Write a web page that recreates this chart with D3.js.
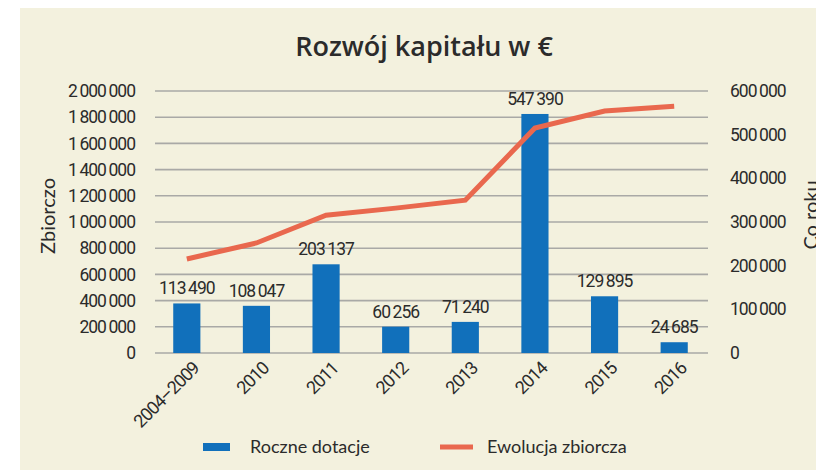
<!DOCTYPE html>
<html lang="pl">
  <head>
    <meta charset="UTF-8" />
    <title>Rozwój kapitału</title>
    <style>
      body {
        margin: 0;
        background: #fff;
      }
      .narrow {
        font-family: "Roboto", sans-serif;
        letter-spacing: -1px;
        fill: #2b2b2b;
      }
      .plain {
        font-family: "Lato", "Open Sans", sans-serif;
        fill: #2b2b2b;
      }
    </style>
  </head>
  <body>
    <div class="chart"></div>

    <script src="https://d3js.org/d3.v7.min.js"></script>
    <script>
      // dane
      const years = ["2004–2009", "2010", "2011", "2012", "2013", "2014", "2015", "2016"];
      const annual = [113490, 108047, 203137, 60256, 71240, 547390, 129895, 24685];
      const cumulative = [718000, 840000, 1052000, 1106000, 1167000, 1717000, 1847000, 1884000];
      const leftTicks = d3.range(0, 2000001, 200000);
      const rightTicks = d3.range(0, 600001, 100000);

      const W = 816;
      const H = 470;
      const plot = { left: 155, right: 708, top: 91, bottom: 353 };

      const pl = d3.formatLocale({ decimal: ",", thousands: "\u2009", grouping: [3], currency: ["", ""] });
      const fmt = pl.format(",d");

      const svg = d3.select(".chart").append("svg").attr("width", W).attr("height", H);

      // tło
      svg.append("rect").attr("x", 20).attr("y", 8).attr("width", W - 20).attr("height", H - 8).attr("fill", "#f3f1de");

      const x = d3.scaleBand().domain(years).range([152, 709]).paddingInner(0.61).paddingOuter(0.305);
      const yL = d3.scaleLinear().domain([0, 2000000]).range([plot.bottom, plot.top]);
      const yR = d3.scaleLinear().domain([0, 600000]).range([plot.bottom, plot.top]);

      // siatka
      svg
        .append("g")
        .selectAll("line")
        .data(leftTicks)
        .join("line")
        .attr("x1", plot.left)
        .attr("x2", plot.right)
        .attr("y1", (d) => yL(d))
        .attr("y2", (d) => yL(d))
        .attr("stroke", "#a9a9a6")
        .attr("stroke-width", 1.6);

      // oś lewa
      const axL = svg
        .append("g")
        .attr("transform", `translate(${plot.left}, 0)`)
        .call(d3.axisLeft(yL).tickValues(leftTicks).tickFormat(fmt).tickSize(0).tickPadding(20));
      axL.select(".domain").remove();
      axL.selectAll("text").attr("class", "narrow").attr("font-size", 17.5).attr("fill", "#2b2b2b");

      // oś prawa
      const axR = svg
        .append("g")
        .attr("transform", `translate(${plot.right}, 0)`)
        .call(d3.axisRight(yR).tickValues(rightTicks).tickFormat(fmt).tickSize(0).tickPadding(22));
      axR.select(".domain").remove();
      axR.selectAll("text").attr("class", "narrow").attr("font-size", 17.5).attr("fill", "#2b2b2b");

      // oś X
      const axX = svg
        .append("g")
        .attr("transform", `translate(0, ${plot.bottom})`)
        .call(d3.axisBottom(x).tickSize(0).tickPadding(0));
      axX.select(".domain").remove();
      axX
        .selectAll("text")
        .attr("class", "narrow")
        .attr("font-size", 18)
        .attr("fill", "#2b2b2b")
        .attr("text-anchor", "end")
        .attr("transform", "translate(9, 12) rotate(-45)")
        .attr("dy", "0.35em");

      // słupki
      svg
        .append("g")
        .selectAll("rect")
        .data(annual)
        .join("rect")
        .attr("x", (d, i) => x(years[i]))
        .attr("width", x.bandwidth())
        .attr("y", (d) => yR(d))
        .attr("height", (d) => plot.bottom - yR(d))
        .attr("fill", "#1170bb");

      // etykiety słupków
      svg
        .append("g")
        .selectAll("text")
        .data(annual)
        .join("text")
        .attr("class", "narrow")
        .attr("font-size", 17.5)
        .attr("text-anchor", "middle")
        .attr("x", (d, i) => x(years[i]) + x.bandwidth() / 2)
        .attr("y", (d) => yR(d) - 9)
        .text((d) => fmt(d));

      // linia zbiorcza
      const line = d3
        .line()
        .x((d, i) => x(years[i]) + x.bandwidth() / 2)
        .y((d) => yL(d));
      svg
        .append("path")
        .datum(cumulative)
        .attr("d", line)
        .attr("fill", "none")
        .attr("stroke", "#e9684e")
        .attr("stroke-width", 5);

      // tytuł
      svg
        .append("text")
        .attr("x", 424)
        .attr("y", 56)
        .attr("text-anchor", "middle")
        .attr("font-family", "'Open Sans', sans-serif")
        .attr("font-size", 27)
        .attr("font-weight", 600)
        .attr("fill", "#2b2b2b")
        .text("Rozwój kapitału w €");

      // tytuły osi
      svg
        .append("text")
        .attr("class", "plain")
        .attr("transform", "translate(55, 216) rotate(-90)")
        .attr("text-anchor", "middle")
        .attr("font-size", 20)
        .text("Zbiorczo");
      svg
        .append("text")
        .attr("class", "plain")
        .attr("transform", "translate(818, 215) rotate(-90)")
        .attr("text-anchor", "middle")
        .attr("font-size", 20)
        .text("Co roku");

      // legenda
      const leg = svg.append("g");
      leg.append("rect").attr("x", 203).attr("y", 443).attr("width", 27).attr("height", 8).attr("fill", "#1170bb");
      leg.append("text").attr("class", "plain").attr("x", 250).attr("y", 453).attr("font-size", 18).text("Roczne dotacje");
      leg.append("line").attr("x1", 440).attr("x2", 473).attr("y1", 447).attr("y2", 447).attr("stroke", "#e9684e").attr("stroke-width", 5);
      leg.append("text").attr("class", "plain").attr("x", 487).attr("y", 453).attr("font-size", 18).text("Ewolucja zbiorcza");
    </script>
  </body>
</html>
